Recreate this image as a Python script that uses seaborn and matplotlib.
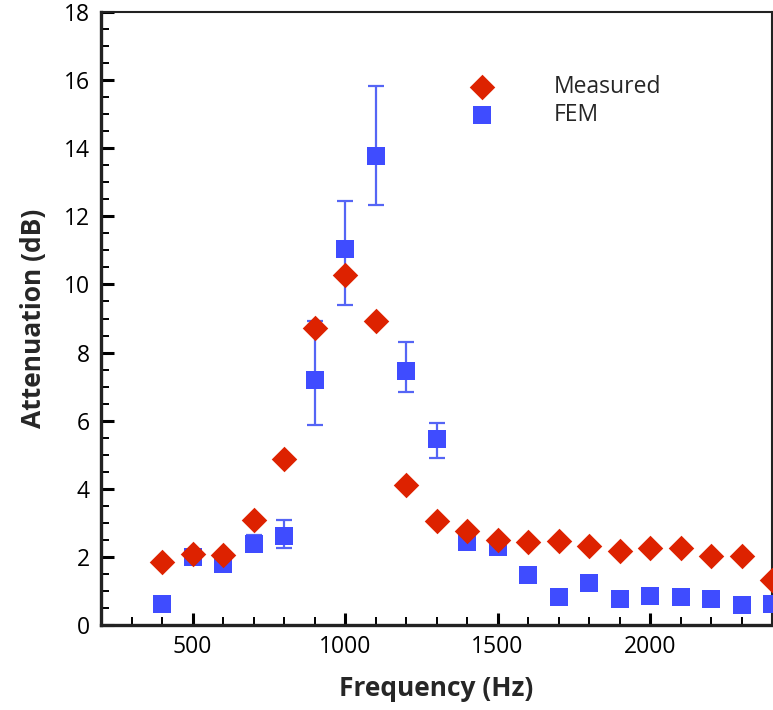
import numpy as np
import pandas as pd
import matplotlib
matplotlib.use("Agg")
import matplotlib.pyplot as plt
from matplotlib.ticker import MultipleLocator
import seaborn as sns

freq = [400, 500, 600, 700, 800, 900, 1000, 1100, 1200, 1300, 1400, 1500,
        1600, 1700, 1800, 1900, 2000, 2100, 2200, 2300, 2400]
measured = [1.86, 2.09, 2.07, 3.07, 4.87, 8.73, 10.29, 8.94, 4.12, 3.04, 2.77, 2.5,
            2.43, 2.48, 2.33, 2.16, 2.25, 2.25, 2.03, 2.03, 1.31]
fem = [0.63, 2.01, 1.78, 2.39, 2.62, 7.18, 11.05, 13.78, 7.47, 5.46, 2.44, 2.3,
       1.48, 0.81, 1.23, 0.76, 0.86, 0.83, 0.76, 0.58, 0.62]
fem_err_low = [np.nan, np.nan, np.nan, 2.2, 2.25, 5.86, 9.39, 12.34, 6.83, 4.91, np.nan, np.nan,
               np.nan, np.nan, np.nan, np.nan, np.nan, np.nan, np.nan, np.nan, np.nan]
fem_err_high = [np.nan, np.nan, np.nan, 2.65, 3.08, 8.92, 12.46, 15.84, 8.32, 5.92, np.nan, np.nan,
                np.nan, np.nan, np.nan, np.nan, np.nan, np.nan, np.nan, np.nan, np.nan]

red = "#DD2200"
blue = "#3F4CFF"
errblue = "#5565F5"

sns.set_style("white")
plt.rcParams['font.family'] = ['Open Sans', 'DejaVu Sans']

fig = plt.figure(figsize=(7.73, 7.10), dpi=100)
ax = fig.add_axes([101/773, 85/710, 671/773, 613/710])

df = pd.DataFrame({"freq": freq, "Measured": measured, "FEM": fem,
                   "lo": fem_err_low, "hi": fem_err_high})
de = df.dropna(subset=["lo", "hi"])
ax.errorbar(de["freq"], de["FEM"], yerr=[de["FEM"] - de["lo"], de["hi"] - de["FEM"]],
            fmt="none", ecolor=errblue, elinewidth=1.6, capsize=6, capthick=1.6, zorder=2)

sns.scatterplot(data=df, x="freq", y="FEM", marker="s", s=13**2, color=blue,
                linewidth=0, ax=ax, zorder=3, label="FEM", clip_on=False)
sns.scatterplot(data=df, x="freq", y="Measured", marker="D", s=13**2, color=red,
                linewidth=0, ax=ax, zorder=4, label="Measured", clip_on=False)

ax.set_xlim(200, 2400)
ax.set_ylim(0, 18)
ax.xaxis.set_major_locator(MultipleLocator(500))
ax.xaxis.set_minor_locator(MultipleLocator(100))
ax.yaxis.set_major_locator(MultipleLocator(2))
ax.yaxis.set_minor_locator(MultipleLocator(0.5))
ax.tick_params(which="both", direction="in", colors="black", labelsize=16.5, pad=6)
ax.tick_params(which="major", length=9, width=2.2)
ax.tick_params(which="minor", length=6, width=1.4)
ax.tick_params(axis="x", which="both", top=False, bottom=True, pad=7)
ax.tick_params(axis="y", which="both", left=True, right=False, pad=8)
ax.set_xticks([500, 1000, 1500, 2000])

for side, lw in [("left", 2.4), ("bottom", 2.4), ("top", 1.5), ("right", 1.5)]:
    ax.spines[side].set_visible(True)
    ax.spines[side].set_color("#222222")
    ax.spines[side].set_linewidth(lw)

ax.set_xlabel("Frequency (Hz)", fontsize=19, fontweight="bold", labelpad=12)
ax.set_ylabel("Attenuation (dB)", fontsize=19, fontweight="bold", labelpad=12)

handles, labels = ax.get_legend_handles_labels()
order = [labels.index("Measured"), labels.index("FEM")]
leg = ax.legend([handles[i] for i in order], [labels[i] for i in order],
                loc="upper left", bbox_to_anchor=(0.52, 0.912), frameon=False,
                fontsize=16.5, handletextpad=2.15, labelspacing=0.17, borderaxespad=0)

fig.savefig("out.png", dpi=100)
